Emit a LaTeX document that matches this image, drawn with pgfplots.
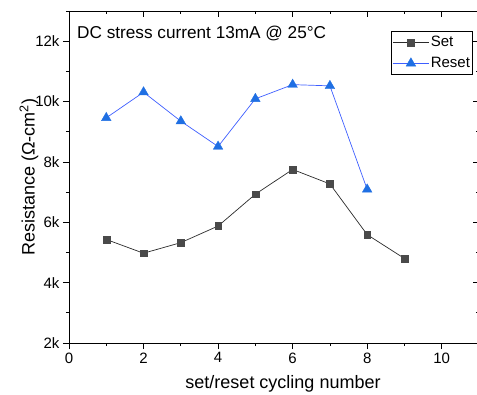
\documentclass[border=0pt]{standalone}
\usepackage{pgfplots}
\pgfplotsset{compat=1.18}
\usepackage{fontspec}
\setmainfont{Liberation Sans}
\definecolor{setc}{HTML}{4A4A4A}
\definecolor{setl}{HTML}{2A2A2A}
\definecolor{resetc}{HTML}{1F6FE3}
\definecolor{resetl}{HTML}{3D5EFF}
\begin{document}
\begin{tikzpicture}
\begin{axis}[name=ax, scale only axis, width=410pt, height=332pt,
  xmin=0, xmax=11, ymin=2000, ymax=13000,
  xtick={0,2,...,10}, minor xtick={1,3,...,11},
  ytick={2000,4000,...,12000}, minor ytick={3000,5000,...,13000},
  yticklabels={2k,4k,6k,8k,10k,12k},
  scaled y ticks=false,
  xtick pos=left, ytick pos=left, tick align=outside,
  major tick length=6pt, minor tick length=3pt,
  tick style={black, line width=0.8pt},
  axis line style={line width=0.8pt},
  ticklabel style={font=\fontsize{15}{17}\selectfont},
  /pgf/number format/assume math mode=true,
  xlabel={set/reset cycling number},
  ylabel={Resistance (Ω-cm\textsuperscript{2})},
  every axis x label/.style={at={(axis description cs:0.522,-0.096)}, anchor=north, inner sep=0pt, font=\fontsize{18}{20}\selectfont},
  every axis y label/.style={at={(axis description cs:-0.0976,0.5)}, anchor=center, inner sep=0pt, rotate=90, font=\fontsize{18}{20}\selectfont},
  legend style={at={(axis description cs:0.985,0.94)}, anchor=north east, draw=black, line width=0.8pt,
    font=\fontsize{15}{17}\selectfont, inner xsep=1pt, inner ysep=2.5pt, row sep=4pt,
    nodes={inner sep=1.5pt, text height=11pt, text depth=3pt}},
  legend cell align=left,
  legend image code/.code={\draw[mark repeat=2,mark phase=2,#1] plot coordinates {(0pt,0pt) (18pt,0pt) (36pt,0pt)};},
]
\addplot[color=setl, line width=0.7pt, mark=square*, mark size=3.4pt,
  mark options={fill=setc, draw=setc, line width=0.3pt}]
  coordinates {(1,5430) (2,4975) (3,5325) (4,5875) (5,6930) (6,7750) (7,7270) (8,5590) (9,4800)};
\addlegendentry{Set}
\addplot[color=resetl, line width=0.7pt, mark=triangle*, mark size=5.6pt,
  mark options={fill=resetc, draw=resetc, line width=0.3pt}]
  coordinates {(1,9460) (2,10310) (3,9350) (4,8510) (5,10090) (6,10560) (7,10520) (8,7090)};
\addlegendentry{Reset}
\node[anchor=base west, inner sep=0pt, font=\fontsize{17.2}{20}\selectfont] at (axis description cs:0.0195,0.918) {DC stress current 13mA @ 25°C};
\end{axis}
\begin{axis}[at={(ax.south west)}, anchor=south west, scale only axis, width=410pt, height=332pt,
  xmin=0, xmax=11, ymin=2000, ymax=13000,
  xtick={0,2,...,10}, minor xtick={1,3,...,11},
  ytick={2000,4000,...,12000}, minor ytick={3000,5000,...,13000},
  xticklabels={}, yticklabels={}, scaled x ticks=false, scaled y ticks=false,
  xtick pos=right, ytick pos=right, tick align=inside,
  major tick length=6pt, minor tick length=3pt,
  tick style={black, line width=0.8pt},
  axis line style={line width=0.8pt},
]
\end{axis}
\pgfresetboundingbox
\path ([xshift=-69pt,yshift=-51pt]ax.south west) rectangle ([xshift=-2pt,yshift=11pt]ax.north east);
\end{tikzpicture}
\end{document}
